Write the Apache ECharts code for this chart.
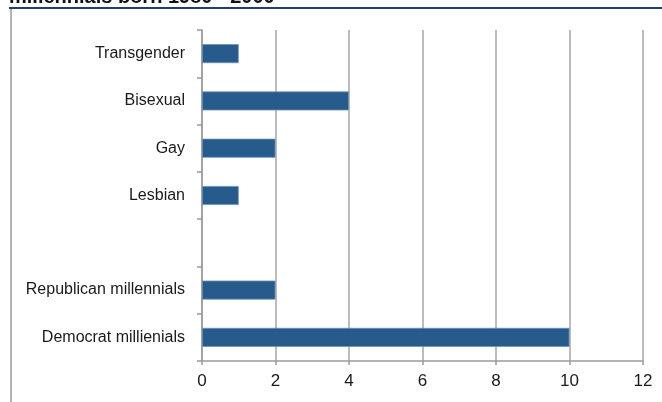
<!DOCTYPE html>
<html>
<head>
<meta charset="utf-8">
<script src="https://cdn.jsdelivr.net/npm/echarts@6/dist/echarts.min.js"></script>
<style>
  html, body { margin: 0; padding: 0; background: #fff; }
  #chart { width: 662px; height: 402px; }
</style>
</head>
<body>
<div id="chart"></div>
<script>
// categories, bottom to top (ECharts draws category 0 at the bottom)
var categories = ['Democrat millienials', 'Republican millennials', '', 'Lesbian', 'Gay', 'Bisexual', 'Transgender'];
var values = [10, 2, null, 1, 2, 4, 1];
var xTicks = { min: 0, max: 12, interval: 2 };
var titleText = 'millennials born 1980 - 2000';

var chart = echarts.init(document.getElementById('chart'));

var option = {
  animation: false,
  backgroundColor: '#fff',
  textStyle: { fontFamily: 'Liberation Sans, Arial, sans-serif' },
  graphic: [
    // cut-off title on top
    {
      type: 'text', left: 9, top: -13,
      style: { text: titleText, fontSize: 20, fontWeight: 'bold', fill: '#111', fontFamily: 'Liberation Sans, Arial, sans-serif' }
    },
    // navy rule under title
    {
      type: 'line', shape: { x1: 9, y1: 8, x2: 662, y2: 8 },
      style: { stroke: '#1f3e6e', lineWidth: 2 }
    },
    // left frame line
    {
      type: 'line', shape: { x1: 11, y1: 9, x2: 11, y2: 402 },
      style: { stroke: '#9a9a9a', lineWidth: 1.5 }
    }
  ],
  grid: { left: 202, right: 19, top: 30, bottom: 41 },
  xAxis: {
    type: 'value',
    min: xTicks.min, max: xTicks.max, interval: xTicks.interval,
    axisLine: { show: true, lineStyle: { color: '#9a9a9a', width: 1.5 } },
    axisTick: { show: true, length: 4, lineStyle: { color: '#9a9a9a', width: 1.5 } },
    splitLine: { show: true, lineStyle: { color: '#a6a6a6', width: 1.5 } },
    axisLabel: { color: '#1a1a1a', fontSize: 17, margin: 12 }
  },
  yAxis: {
    type: 'category',
    data: categories,
    axisLine: { show: true, lineStyle: { color: '#9a9a9a', width: 1.5 } },
    axisTick: { show: true, length: 5, lineStyle: { color: '#9a9a9a', width: 1.5 } },
    axisLabel: { color: '#1a1a1a', fontSize: 16, margin: 17 }
  },
  series: [{
    type: 'bar',
    data: values,
    barWidth: 19,
    itemStyle: { color: '#265b8b', borderColor: '#6d93b8', borderWidth: 0.8 }
  }]
};

chart.setOption(option);
</script>
</body>
</html>
